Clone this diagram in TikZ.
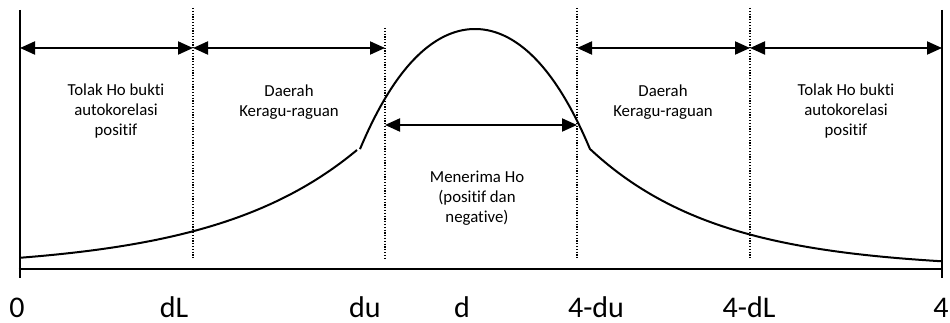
\documentclass[tikz,border=0pt]{standalone}
\usepackage{fontspec}
\setmainfont{Carlito}[Ligatures=NoCommon]
\usetikzlibrary{arrows.meta}
\tikzset{
  axisline/.style={line width=2.6pt},
  bound/.style={line width=1.2pt, dash pattern=on 1.2pt off 1.6pt},
  span/.style={line width=2pt, {Triangle[length=15pt,width=13pt]}-{Triangle[length=15pt,width=13pt]}},
  curveline/.style={line width=2pt},
  region/.style={align=center, font=\fontsize{16.8}{20}\selectfont, inner sep=0pt},
  tick/.style={font=\fontsize{30}{34}\selectfont, inner sep=0pt, anchor=base}
}
\begin{document}
\begin{tikzpicture}[x=1pt,y=-1pt]
\useasboundingbox (0,0) rectangle (950,323);
% boundary coordinates
\coordinate (ltop) at (20,10);
\coordinate (lbot) at (20,278);
\coordinate (rtop) at (942,10);
\coordinate (rbot) at (942,278);
\coordinate (xl) at (18.7,269);
\coordinate (xr) at (943.3,269);
\coordinate (dLt) at (193,8);   \coordinate (dLb) at (193,258);
\coordinate (dut) at (385,28);  \coordinate (dub) at (385,258);
\coordinate (udt) at (577,8);   \coordinate (udb) at (577,258);
\coordinate (uLt) at (750,8);   \coordinate (uLb) at (750,258);
% arrow ends
\coordinate (a0) at (20,48);
\coordinate (a1) at (193,48);
\coordinate (a2) at (385,48);
\coordinate (a3) at (577,48);
\coordinate (a4) at (750,48);
\coordinate (a5) at (942,48);
\coordinate (m1) at (385,125);
\coordinate (m2) at (577,125);
% axes
\draw[axisline] (ltop) -- (lbot);
\draw[axisline] (rtop) -- (rbot);
\draw[axisline] (xl) -- (xr);
% dotted boundaries
\draw[bound] (dLt) -- (dLb);
\draw[bound] (dut) -- (dub);
\draw[bound] (udt) -- (udb);
\draw[bound] (uLt) -- (uLb);
% curve: left tail, bell top, right tail
\draw[curveline] plot[domain=20:357,samples=120,smooth] (\x,{269-119*exp(0.007*(\x-357))});
\draw[curveline, line join=round] plot[domain=360:590,samples=120,smooth]
  (\x,{29+78*((\x-475)/100)^2+9.7*((\x-475)/100)^4})
  -- plot[domain=590:942,samples=120,smooth] (\x,{269-120*exp(-0.0078*(\x-590))});
% arrows
\draw[span] (a0) -- (a1);
\draw[span] (a1) -- (a2);
\draw[span] (a3) -- (a4);
\draw[span] (a4) -- (a5);
\draw[span] (m1) -- (m2);
% region labels
\node[region] (r1) at (116,111) {Tolak Ho bukti\\autokorelasi\\positif};
\node[region] (r2) at (289,102) {Daerah\\Keragu-raguan};
\node[region] (r3) at (477,198) {Menerima Ho\\(positif dan\\negative)};
\node[region] (r4) at (663,102) {Daerah\\Keragu-raguan};
\node[region] (r5) at (846,111) {Tolak Ho bukti\\autokorelasi\\positif};
% tick labels
\node[tick] (t0) at (17,317) {0};
\node[tick] (t1) at (174,317) {dL};
\node[tick] (t2) at (365,317) {du};
\node[tick] (t3) at (462,317) {d};
\node[tick] (t4) at (596,317) {4-du};
\node[tick] (t5) at (749,317) {4-dL};
\node[tick] (t6) at (941,317) {4};
\end{tikzpicture}
\end{document}
